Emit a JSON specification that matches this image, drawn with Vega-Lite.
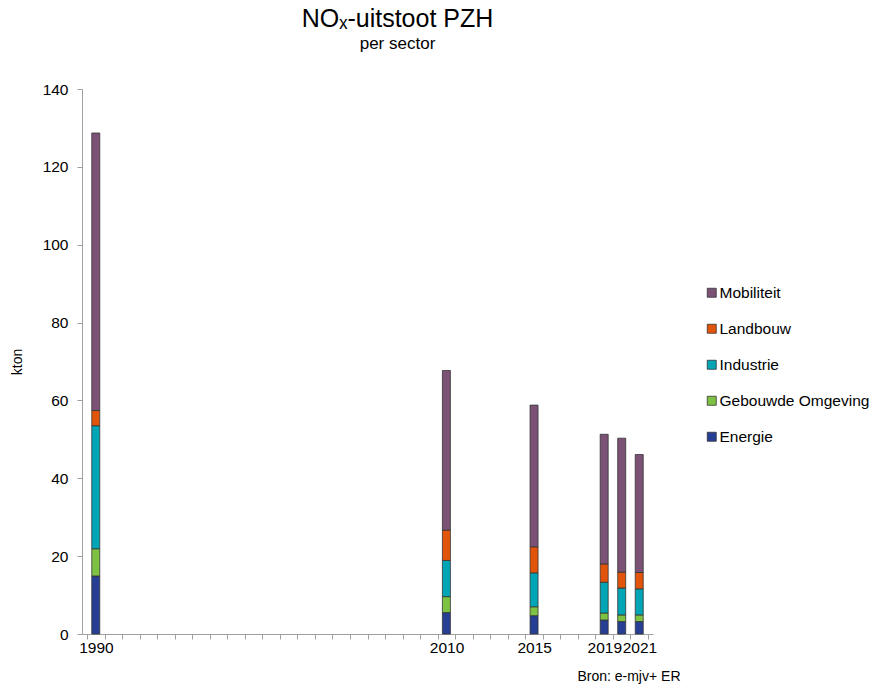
{
  "$schema": "https://vega.github.io/schema/vega-lite/v6.json",
  "width": 571,
  "height": 545,
  "autosize": {"type": "none"},
  "padding": {"left": 82, "top": 89, "right": 222, "bottom": 50},
  "background": "white",
  "config": {
    "view": {"stroke": null},
    "font": "Liberation Sans"
  },
  "title": {
    "text": "NOₓ-uitstoot PZH",
    "subtitle": "per sector",
    "fontSize": 25,
    "fontWeight": "normal",
    "subtitleFontSize": 17,
    "subtitlePadding": 4,
    "color": "#000000",
    "subtitleColor": "#000000",
    "anchor": "middle",
    "dx": 30,
    "offset": 30
  },
  "data": {
    "values": [
      {"year": 1990, "sector": "Energie", "kton": 14.9},
      {"year": 1990, "sector": "Gebouwde Omgeving", "kton": 7.0},
      {"year": 1990, "sector": "Industrie", "kton": 31.6},
      {"year": 1990, "sector": "Landbouw", "kton": 3.9},
      {"year": 1990, "sector": "Mobiliteit", "kton": 71.3},
      {"year": 2010, "sector": "Energie", "kton": 5.5},
      {"year": 2010, "sector": "Gebouwde Omgeving", "kton": 4.1},
      {"year": 2010, "sector": "Industrie", "kton": 9.3},
      {"year": 2010, "sector": "Landbouw", "kton": 7.8},
      {"year": 2010, "sector": "Mobiliteit", "kton": 41.0},
      {"year": 2015, "sector": "Energie", "kton": 4.7},
      {"year": 2015, "sector": "Gebouwde Omgeving", "kton": 2.3},
      {"year": 2015, "sector": "Industrie", "kton": 8.7},
      {"year": 2015, "sector": "Landbouw", "kton": 6.7},
      {"year": 2015, "sector": "Mobiliteit", "kton": 36.4},
      {"year": 2019, "sector": "Energie", "kton": 3.6},
      {"year": 2019, "sector": "Gebouwde Omgeving", "kton": 1.8},
      {"year": 2019, "sector": "Industrie", "kton": 7.9},
      {"year": 2019, "sector": "Landbouw", "kton": 4.7},
      {"year": 2019, "sector": "Mobiliteit", "kton": 33.3},
      {"year": 2020, "sector": "Energie", "kton": 3.2},
      {"year": 2020, "sector": "Gebouwde Omgeving", "kton": 1.7},
      {"year": 2020, "sector": "Industrie", "kton": 6.9},
      {"year": 2020, "sector": "Landbouw", "kton": 4.1},
      {"year": 2020, "sector": "Mobiliteit", "kton": 34.4},
      {"year": 2021, "sector": "Energie", "kton": 3.2},
      {"year": 2021, "sector": "Gebouwde Omgeving", "kton": 1.7},
      {"year": 2021, "sector": "Industrie", "kton": 6.7},
      {"year": 2021, "sector": "Landbouw", "kton": 4.2},
      {"year": 2021, "sector": "Mobiliteit", "kton": 30.3}
    ]
  },
  "mark": {"type": "bar", "width": 8, "stroke": "#333333", "strokeWidth": 0.8},
  "encoding": {
    "x": {
      "field": "year",
      "type": "quantitative",
      "scale": {"domain": [1989.5, 2021.5], "nice": false, "zero": false},
      "axis": {
        "values": [1989.5, 1990.5, 1991.5, 1992.5, 1993.5, 1994.5, 1995.5, 1996.5, 1997.5, 1998.5, 1999.5, 2000.5, 2001.5, 2002.5, 2003.5, 2004.5, 2005.5, 2006.5, 2007.5, 2008.5, 2009.5, 2010.5, 2011.5, 2012.5, 2013.5, 2014.5, 2015.5, 2016.5, 2017.5, 2018.5, 2019.5, 2020.5, 2021.5],
        "labelExpr": "indexof([1990, 2010, 2015, 2019, 2021], datum.value + 0.5) >= 0 ? toString(datum.value + 0.5) : ''",
        "labelOffset": 8.9,
        "labelFontSize": 15.5,
        "labelColor": "#000000",
        "labelPadding": 1,
        "labelOverlap": false,
        "labelFlush": false,
        "grid": false,
        "domainColor": "#a0a0a0",
        "tickColor": "#a0a0a0",
        "tickSize": 5,
        "title": "Bron: e-mjv+ ER",
        "titleFontSize": 14,
        "titleFontWeight": "normal",
        "titleColor": "#000000",
        "titleAnchor": "end",
        "titleAlign": "right",
        "titleBaseline": "alphabetic",
        "titleX": 598,
        "titleY": 46
      }
    },
    "y": {
      "field": "kton",
      "type": "quantitative",
      "aggregate": "sum",
      "stack": "zero",
      "scale": {"domain": [0, 140], "nice": false},
      "axis": {
        "values": [0, 20, 40, 60, 80, 100, 120, 140],
        "grid": false,
        "labelFontSize": 15.5,
        "labelColor": "#000000",
        "labelPadding": 9,
        "domainColor": "#a0a0a0",
        "tickColor": "#a0a0a0",
        "tickSize": 5,
        "title": "kton",
        "titleFontSize": 14,
        "titleFontWeight": "normal",
        "titleColor": "#000000",
        "titlePadding": 18
      }
    },
    "color": {
      "field": "sector",
      "type": "nominal",
      "sort": "descending",
      "scale": {
        "domain": ["Mobiliteit", "Landbouw", "Industrie", "Gebouwde Omgeving", "Energie"],
        "range": ["#7B5275", "#E3540B", "#00A6B5", "#7DC242", "#263F94"]
      },
      "legend": {
        "title": null,
        "orient": "none",
        "legendX": 622,
        "legendY": 196,
        "symbolType": "square",
        "symbolSize": 81,
        "symbolStrokeColor": "#333333",
        "symbolStrokeWidth": 0.8,
        "labelFontSize": 15.5,
        "labelColor": "#000000",
        "labelOffset": 0,
        "rowPadding": 19,
        "labelLimit": 300
      }
    },
    "order": {"field": "sector", "sort": "ascending"}
  }
}
